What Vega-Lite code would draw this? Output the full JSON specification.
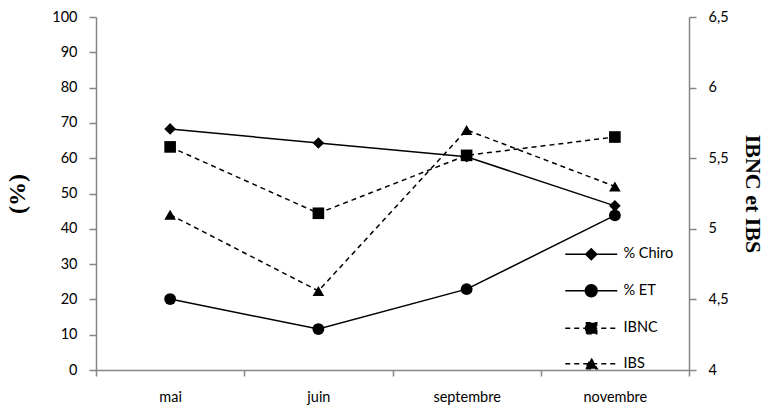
{
  "$schema": "https://vega.github.io/schema/vega-lite/v6.json",
  "width": 593,
  "height": 353,
  "autosize": "none",
  "padding": {"left": 96, "top": 17, "right": 83, "bottom": 42},
  "config": {
    "view": {"stroke": null},
    "axis": {
      "grid": false,
      "labelFont": "Lato",
      "labelFontSize": 14.5,
      "labelColor": "#000000",
      "domainColor": "#868686",
      "domainWidth": 1.5,
      "tickColor": "#868686",
      "tickWidth": 1.5,
      "tickSize": 7,
      "titleFont": "Liberation Serif",
      "titleFontWeight": "bold",
      "titleFontSize": 22,
      "titleColor": "#000000"
    }
  },
  "data": {
    "values": [
      {"mois": "mai", "serie": "% Chiro", "axe": "pct", "valeur": 68.3},
      {"mois": "juin", "serie": "% Chiro", "axe": "pct", "valeur": 64.3},
      {"mois": "septembre", "serie": "% Chiro", "axe": "pct", "valeur": 60.4},
      {"mois": "novembre", "serie": "% Chiro", "axe": "pct", "valeur": 46.5},
      {"mois": "mai", "serie": "% ET", "axe": "pct", "valeur": 20.1},
      {"mois": "juin", "serie": "% ET", "axe": "pct", "valeur": 11.6},
      {"mois": "septembre", "serie": "% ET", "axe": "pct", "valeur": 22.9},
      {"mois": "novembre", "serie": "% ET", "axe": "pct", "valeur": 43.8},
      {"mois": "mai", "serie": "IBNC", "axe": "indice", "valeur": 5.58},
      {"mois": "juin", "serie": "IBNC", "axe": "indice", "valeur": 5.11},
      {"mois": "septembre", "serie": "IBNC", "axe": "indice", "valeur": 5.52},
      {"mois": "novembre", "serie": "IBNC", "axe": "indice", "valeur": 5.65},
      {"mois": "mai", "serie": "IBS", "axe": "indice", "valeur": 5.1},
      {"mois": "juin", "serie": "IBS", "axe": "indice", "valeur": 4.56},
      {"mois": "septembre", "serie": "IBS", "axe": "indice", "valeur": 5.7},
      {"mois": "novembre", "serie": "IBS", "axe": "indice", "valeur": 5.3}
    ]
  },
  "encoding": {
    "x": {
      "field": "mois",
      "type": "ordinal",
      "sort": ["mai", "juin", "septembre", "novembre"],
      "scale": {"type": "band", "paddingInner": 0, "paddingOuter": 0},
      "axis": {"title": null, "labelAngle": 0, "tickBand": "extent", "tickSize": 6, "labelPadding": 14}
    }
  },
  "layer": [
    {
      "transform": [{"filter": "datum.axe === 'pct'"}],
      "encoding": {
        "y": {
          "field": "valeur",
          "type": "quantitative",
          "scale": {"domain": [0, 100], "nice": false, "zero": false},
          "axis": {
            "orient": "left",
            "title": "(%)",
            "titleFontSize": 24,
            "values": [0, 10, 20, 30, 40, 50, 60, 70, 80, 90, 100],
            "labelPadding": 12,
            "titlePadding": 22
          }
        }
      },
      "layer": [
        {
          "mark": {"type": "line", "color": "#000000", "strokeWidth": 1.5},
          "encoding": {"detail": {"field": "serie"}}
        },
        {
          "transform": [{"filter": "datum.serie === '% Chiro'"}],
          "mark": {"type": "point", "shape": "diamond", "filled": true, "color": "#000000", "opacity": 1, "size": 135}
        },
        {
          "transform": [{"filter": "datum.serie === '% ET'"}],
          "mark": {"type": "point", "shape": "circle", "filled": true, "color": "#000000", "opacity": 1, "size": 140}
        },
        {
          "mark": {"type": "point", "filled": true, "color": "#000000", "opacity": 0, "size": 100},
          "encoding": {
            "shape": {
              "field": "serie",
              "type": "nominal",
              "scale": {
                "domain": ["% Chiro", "% ET", "IBNC", "IBS"],
                "range": [
                  "M-1,0L9.4,0M4.2,-1.1L5.3,0L4.2,1.1L3.1,0Z",
                  "M-1,0L9.4,0M5.4,0A1.2,1.2,0,1,1,3,0A1.2,1.2,0,1,1,5.4,0Z",
                  "M-1,0L9.4,0M3.1,-1.1L5.3,-1.1L5.3,1.1L3.1,1.1Z",
                  "M-1,0L9.4,0M4.2,-1.05L5.4,1L3,1Z"
                ]
              },
              "legend": {
                "title": null,
                "orient": "none",
                "legendX": 467,
                "legendY": 230,
                "padding": 0,
                "symbolSize": 100,
                "symbolOpacity": 1,
                "labelFont": "Lato",
                "labelFontSize": 14.5,
                "labelColor": "#000000",
                "labelOffset": 46,
                "rowPadding": 18.5,
                "encoding": {
                  "symbols": {
                    "strokeDash": {"value": {"expr": "datum.value === 'IBNC' || datum.value === 'IBS' ? [5, 4] : []"}},
                    "fill": {"value": "#000000"},
                    "stroke": {"value": "#000000"},
                    "strokeWidth": {"value": 1.5},
                    "opacity": {"value": 1}
                  }
                }
              }
            }
          }
        }
      ]
    },
    {
      "transform": [{"filter": "datum.axe === 'indice'"}],
      "encoding": {
        "y": {
          "field": "valeur",
          "type": "quantitative",
          "scale": {"domain": [4, 6.5], "nice": false, "zero": false},
          "axis": {
            "orient": "right",
            "title": "IBNC et IBS",
            "values": [4, 4.5, 5, 5.5, 6, 6.5],
            "labelExpr": "replace(format(datum.value, '.1~f'), '.', ',')",
            "labelPadding": 12,
            "titlePadding": 12
          }
        }
      },
      "layer": [
        {
          "mark": {"type": "line", "color": "#000000", "strokeWidth": 1.5, "strokeDash": [5, 4]},
          "encoding": {"detail": {"field": "serie"}}
        },
        {
          "transform": [{"filter": "datum.serie === 'IBNC'"}],
          "mark": {"type": "point", "shape": "square", "filled": true, "color": "#000000", "opacity": 1, "size": 135}
        },
        {
          "transform": [{"filter": "datum.serie === 'IBS'"}],
          "mark": {"type": "point", "shape": "triangle-up", "filled": true, "color": "#000000", "opacity": 1, "size": 135}
        }
      ]
    }
  ],
  "resolve": {"scale": {"y": "independent"}}
}
